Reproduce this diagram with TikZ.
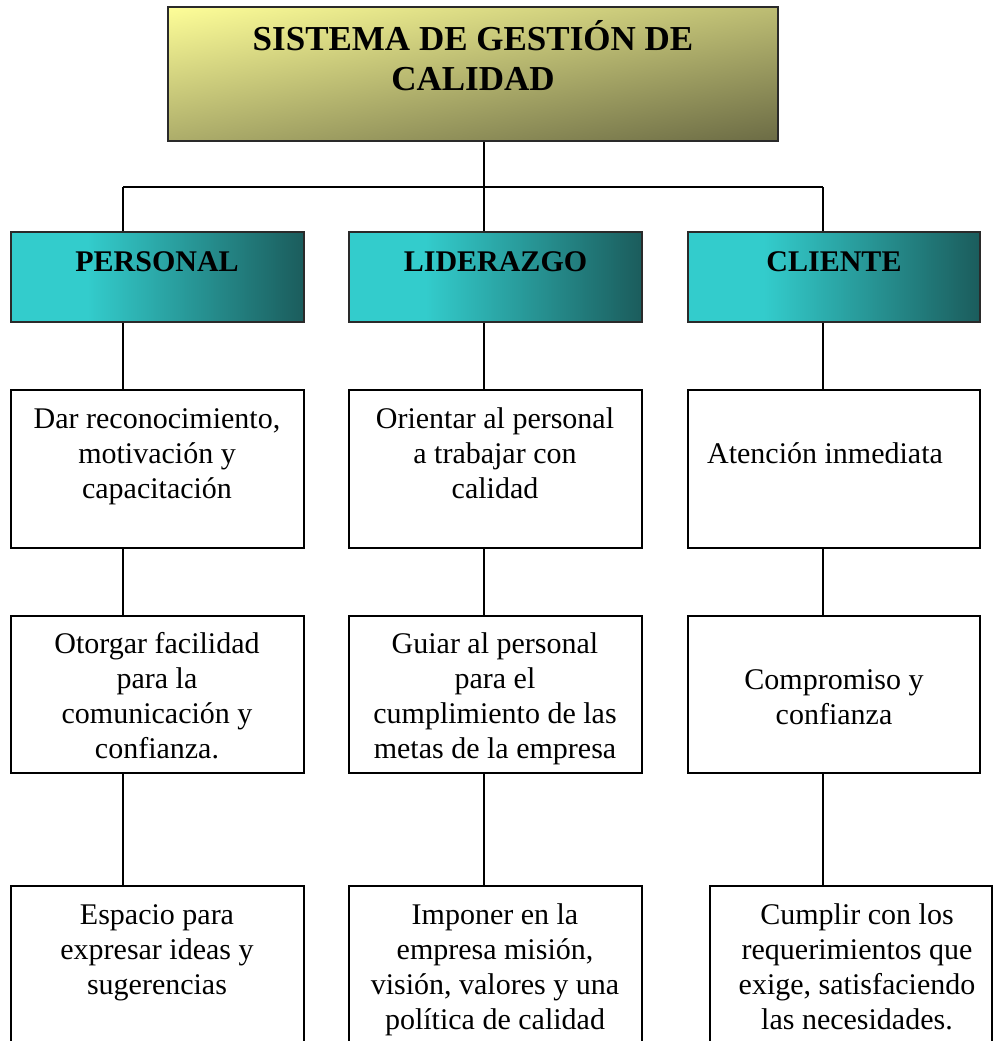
\documentclass[tikz,border=0pt]{standalone}
\usepackage{fontspec}
\setmainfont{Liberation Serif}
\definecolor{tealL}{HTML}{33CCCC}
\definecolor{tealD}{HTML}{1B5C5C}
\definecolor{goldL}{HTML}{FFFF99}
\definecolor{goldD}{HTML}{6A6A44}
\definecolor{edge}{HTML}{2A2A2A}
% teal bar: flat turquoise on the left, darkening to the right
\pgfdeclarehorizontalshading{tealbar}{100bp}{color(0bp)=(tealL); color(25bp)=(tealL); color(38bp)=(tealL); color(75bp)=(tealD); color(100bp)=(tealD)}
% title: pale yellow to dark olive, used on a 610pt square so the tilt is true
\pgfdeclarehorizontalshading{goldtilt}{100bp}{color(0bp)=(goldL); color(40bp)=(goldL); color(60bp)=(goldD); color(100bp)=(goldD)}
\tikzset{
  titlebox/.style={draw=edge, line width=1.5pt, inner sep=0pt,
    minimum width=610pt, minimum height=134pt,
    path picture={\shade[shading=goldtilt, shading angle=-80]
      ([shift={(-305,-305)}]path picture bounding box.center) rectangle
      ([shift={(305,305)}]path picture bounding box.center);}},
  headbox/.style={draw=edge, line width=1.5pt, inner sep=0pt, shading=tealbar,
    minimum width=293pt, minimum height=90pt},
  itembox/.style={draw=black, line width=1.2pt, inner sep=0pt, fill=white,
    minimum width=293pt},
  titletext/.style={font=\fontsize{35}{40}\selectfont\bfseries, align=center, inner sep=0pt},
  headtext/.style={font=\fontsize{30}{35}\selectfont\bfseries, align=center, inner sep=0pt},
  itemtext/.style={font=\fontsize{30}{35}\selectfont, align=center, inner sep=0pt},
  link/.style={draw=black, line width=1.3pt}
}
\begin{document}
\begin{tikzpicture}[x=1pt,y=-1pt]
\useasboundingbox (0,0) rectangle (994,1041);
\clip (0,0) rectangle (994,1041);
\fill[white] (0,0) rectangle (994,1041);

% branch points of the tree
\coordinate (cL) at (123,187);
\coordinate (cM) at (484,187);
\coordinate (cR) at (823,187);

% title
\node[titlebox] (title) at (473,74) {};
\node[titletext] (titleT) at (473,56) {SISTEMA DE GESTIÓN DE\\CALIDAD};

% column headers
\node[headbox] (perH) at (157.5,277) {};
\node[headbox] (lidH) at (495.5,277) {};
\node[headbox, minimum width=292pt] (cliH) at (834,277) {};
\node[headtext] (perT) at (157,262) {PERSONAL};
\node[headtext] (lidT) at (495.5,262) {LIDERAZGO};
\node[headtext] (cliT) at (834,262) {CLIENTE};

% first row
\node[itembox, minimum height=158pt] (perA) at (157.5,469) {};
\node[itembox, minimum height=158pt] (lidA) at (495.5,469) {};
\node[itembox, minimum height=158pt, minimum width=292pt] (cliA) at (834,469) {};
\node[itemtext] (perAT) at (157,457) {Dar reconocimiento,\\motivación y\\capacitación};
\node[itemtext] (lidAT) at (495,453) {Orientar al personal\\a trabajar con\\calidad};
\node[itemtext] (cliAT) at (825,453) {Atención inmediata};

% second row
\node[itembox, minimum height=157pt] (perB) at (157.5,694.5) {};
\node[itembox, minimum height=157pt] (lidB) at (495.5,694.5) {};
\node[itembox, minimum height=157pt, minimum width=292pt] (cliB) at (834,694.5) {};
\node[itemtext] (perBT) at (157,696) {Otorgar facilidad\\para la\\comunicación y\\confianza.};
\node[itemtext] (lidBT) at (495,699) {Guiar al personal\\para el\\cumplimiento de las\\metas de la empresa};
\node[itemtext] (cliBT) at (834,697) {Compromiso y\\confianza};

% third row (runs past the lower edge)
\node[itembox, minimum height=175pt] (perC) at (157.5,973.5) {};
\node[itembox, minimum height=175pt] (lidC) at (495.5,973.5) {};
\node[itembox, minimum height=175pt, minimum width=282pt] (cliC) at (851,973.5) {};
\node[itemtext] (perCT) at (157,953) {Espacio para\\expresar ideas y\\sugerencias};
\node[itemtext] (lidCT) at (495,970) {Imponer en la\\empresa misión,\\visión, valores y una\\política de calidad};
\node[itemtext] (cliCT) at (857,967) {Cumplir con los\\requerimientos que\\exige, satisfaciendo\\las necesidades.};

% connectors
\draw[link] (title.south -| cM) -- (cM);
\draw[link] (cL) -- (cR);
\draw[link] (cL) -- (cL |- perH.north);
\draw[link] (cM) -- (cM |- lidH.north);
\draw[link] (cR) -- (cR |- cliH.north);

\draw[link] (perH.south -| cL) -- (perA.north -| cL);
\draw[link] (lidH.south -| cM) -- (lidA.north -| cM);
\draw[link] (cliH.south -| cR) -- (cliA.north -| cR);

\draw[link] (perA.south -| cL) -- (perB.north -| cL);
\draw[link] (lidA.south -| cM) -- (lidB.north -| cM);
\draw[link] (cliA.south -| cR) -- (cliB.north -| cR);

\draw[link] (perB.south -| cL) -- (perC.north -| cL);
\draw[link] (lidB.south -| cM) -- (lidC.north -| cM);
\draw[link] (cliB.south -| cR) -- (cliC.north -| cR);
\end{tikzpicture}
\end{document}
